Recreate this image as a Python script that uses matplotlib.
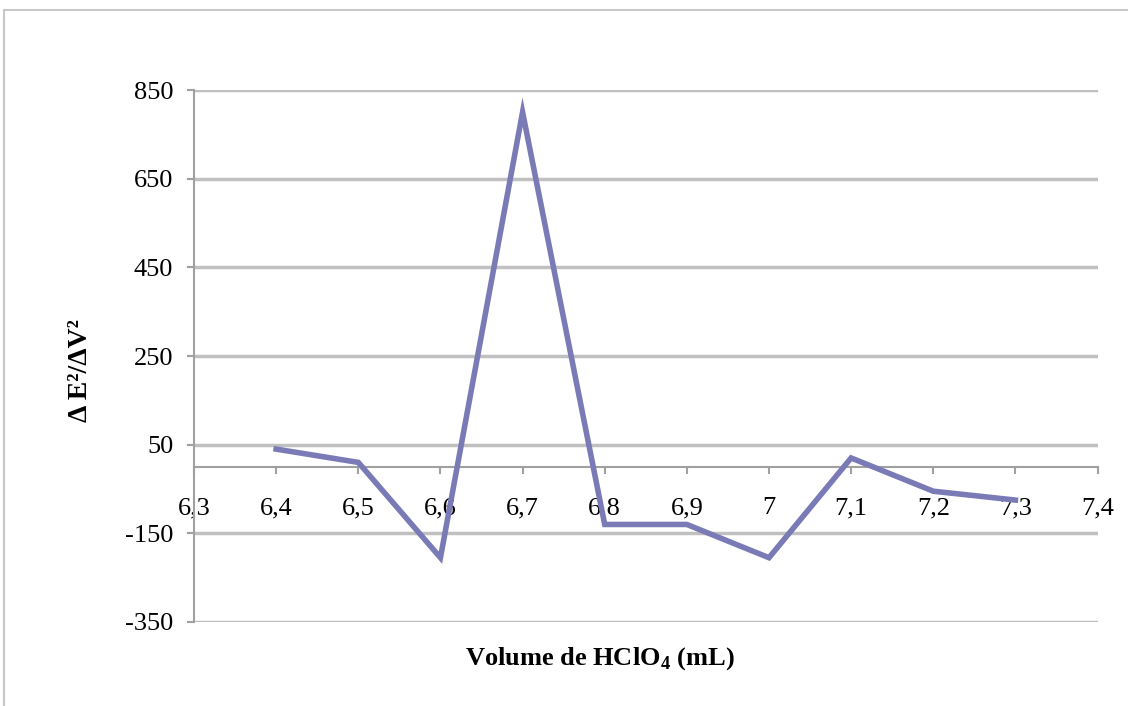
import matplotlib
matplotlib.use("Agg")
import matplotlib.pyplot as plt
from matplotlib.patches import Rectangle

# Titration data: second derivative vs added volume
volume = [6.4, 6.5, 6.6, 6.7, 6.8, 6.9, 7.0, 7.1, 7.2, 7.3]
d2E = [40, 10, -205, 800, -130, -130, -205, 20, -55, -75]

x_ticks = [6.3, 6.4, 6.5, 6.6, 6.7, 6.8, 6.9, 7.0, 7.1, 7.2, 7.3, 7.4]
x_tick_labels = ["6,3", "6,4", "6,5", "6,6", "6,7", "6,8", "6,9", "7", "7,1", "7,2", "7,3", "7,4"]
y_ticks = [-350, -150, 50, 250, 450, 650, 850]

plt.rcParams["font.family"] = ["Liberation Serif", "DejaVu Serif"]
plt.rcParams["axes.unicode_minus"] = False
plt.rcParams["mathtext.fontset"] = "custom"
plt.rcParams["mathtext.rm"] = "Liberation Serif"
plt.rcParams["mathtext.bf"] = "Liberation Serif:bold"

fig = plt.figure(figsize=(11.28, 7.06), dpi=100)
ax = fig.add_axes([0.172, 0.119, 0.801, 0.7535])

# Chart area border (Excel style)
fig.patches.append(Rectangle((4 / 1128, -0.1), 1.2, 1.1 - 10 / 706, transform=fig.transFigure,
                             fill=False, edgecolor="#c8c8c8", linewidth=1.5))

grid_col = "#c0c0c0"
for y in y_ticks:
    ax.axhline(y, color=grid_col, linewidth=2.5, zorder=1)

ax.plot(volume, d2E, color="#7a7ab6", linewidth=4, solid_joinstyle="miter", zorder=3)

ax.set_xlim(6.3, 7.4)
ax.set_ylim(-350, 850)
ax.set_xticks(x_ticks)
ax.set_xticklabels(x_tick_labels)
ax.set_yticks(y_ticks)

for side in ["top", "right"]:
    ax.spines[side].set_visible(False)
ax.spines["bottom"].set_position(("data", 0))
for side in ["bottom", "left"]:
    ax.spines[side].set_color("#a0a0a0")
    ax.spines[side].set_linewidth(1.5)
ax.spines["bottom"].set_zorder(2)

ax.tick_params(axis="x", direction="out", length=5, width=1.5, color="#a0a0a0",
               pad=17, labelsize=19)
ax.tick_params(axis="y", direction="out", length=5, width=1.5, color="#a0a0a0",
               pad=10, labelsize=19)

ax.set_ylabel("Δ E²/ΔV²", fontsize=20, fontweight="bold")
ax.yaxis.set_label_coords(-0.126, 0.472)
ax.set_xlabel(r"Volume de HClO$_\mathbf{4}$ (mL)", fontsize=19, fontweight="bold")
ax.xaxis.set_label_coords(0.449, -0.068)
ax.xaxis.label.set_va("center")
ax.yaxis.label.set_va("center")

fig.savefig("out.png", dpi=100)
